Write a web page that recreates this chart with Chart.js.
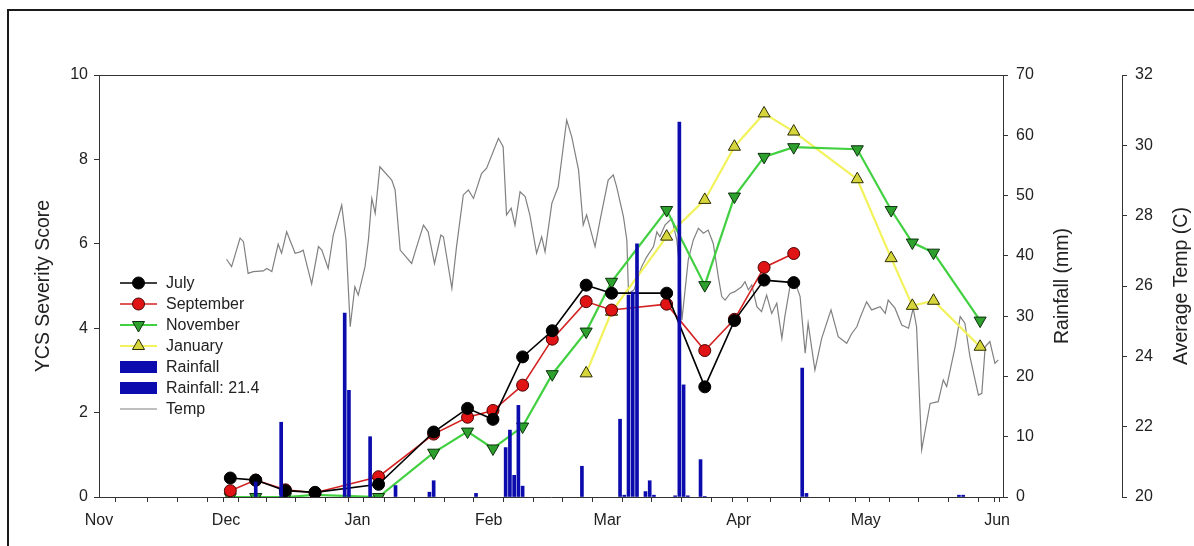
<!DOCTYPE html>
<html>
<head>
<meta charset="utf-8">
<script src="https://cdn.jsdelivr.net/npm/chart.js@4.4.1/dist/chart.umd.min.js"></script>
<style>
html, body { margin: 0; padding: 0; background: #fff; }
#wrap { position: relative; width: 1194px; height: 546px; overflow: hidden; }
#frame { position: absolute; left: 7px; top: 9px; width: 1300px; height: 700px;
         border-left: 2px solid #1a1a1a; border-top: 2px solid #1a1a1a; }
#myChart { position: absolute; left: 0; top: 0; }
</style>
</head>
<body>
<div id="wrap">
  <div id="frame"></div>
  <canvas id="myChart" width="1194" height="546"></canvas>
</div>
<script>
// x values are days counted from 1 Nov
var monthNames = ['Nov', 'Dec', 'Jan', 'Feb', 'Mar', 'Apr', 'May', 'Jun'];
var monthStarts = [0, 30, 61, 92, 120, 151, 181, 212];

var julyDays = [31, 37, 44, 51, 66, 79, 87, 93, 100, 107, 115, 121, 134, 143, 150, 157, 164];
var julyScore = [0.45, 0.40, 0.15, 0.11, 0.30, 1.54, 2.10, 1.84, 3.32, 3.94, 5.02, 4.83, 4.83, 2.61, 4.18, 5.14, 5.08];

var septDays = [31, 37, 44, 51, 66, 79, 87, 93, 100, 107, 115, 121, 134, 143, 150, 157, 164];
var septScore = [0.15, 0.40, 0.17, 0.10, 0.48, 1.49, 1.89, 2.05, 2.65, 3.74, 4.63, 4.43, 4.57, 3.47, 4.21, 5.44, 5.77];

var novDays = [31, 37, 44, 51, 66, 79, 87, 93, 100, 107, 115, 121, 134, 143, 150, 157, 164, 179, 187, 192, 197, 208];
var novScore = [0, 0, 0, 0.05, 0, 1.05, 1.55, 1.15, 1.67, 2.91, 3.92, 5.10, 6.80, 5.02, 7.12, 8.06, 8.29, 8.24, 6.80, 6.03, 5.79, 4.18];

var janDays = [115, 121, 134, 143, 150, 157, 164, 179, 187, 192, 197, 208];
var janScore = [2.93, 4.39, 6.17, 7.04, 8.30, 9.09, 8.66, 7.53, 5.66, 4.53, 4.65, 3.56];

var rainDays = [37, 43, 58, 59, 64, 70, 78, 79, 89, 96, 97, 98, 99, 100, 114, 123, 124, 125, 126, 127,
                129, 130, 131, 136, 137, 138, 139, 142, 143, 167, 203, 204];
var rainMm = [2.5, 12.4, 30.5, 17.7, 10.0, 1.9, 0.8, 2.7, 0.6, 8.2, 11.1, 3.6, 15.2, 1.8, 5.1, 12.9, 0.3, 33.5, 34.0, 42.0,
              0.9, 2.7, 0.3, 0.2, 62.2, 18.6, 0.2, 6.2, 0.1, 0.6, 0.3, 0.3];

var rain21Days = [166];
var rain21Mm = [21.4];

var tempDays = [30.1, 31.3, 33.3, 34.1, 35.2, 36.4, 38.8, 39.6, 40.8, 42.3,
    43.1, 44.3, 46.3, 47.5, 48.2, 50.2, 51.8, 52.6, 54.1, 55.3,
    57.3, 58.3, 59.3, 60.4, 61.2, 62.8, 63.6, 64.4, 65.2, 66.3,
    69.1, 69.9, 71.1, 73.8, 75.0, 76.6, 77.7, 79.2, 80.7, 81.3,
    83.3, 84.4, 86.0, 87.2, 88.4, 90.3, 91.5, 94.3, 95.4, 96.2,
    97.3, 98.2, 99.4, 100.6, 101.7, 103.3, 104.5, 105.3, 106.9, 108.4,
    110.4, 111.6, 113.2, 114.3, 115.1, 117.1, 118.3, 120.2, 121.4, 122.2,
    123.8, 124.6, 125.0, 126.3, 128.1, 129.3, 130.9, 131.7, 132.4, 133.6,
    135.2, 136.4, 137.0, 137.6, 139.1, 140.3, 141.5, 142.7, 143.8, 145.0,
    146.2, 147.0, 147.8, 149.0, 150.1, 151.7, 152.5, 153.3, 154.1, 155.3,
    156.4, 157.6, 158.8, 160.0, 161.2, 161.9, 163.1, 164.3, 165.5, 166.7,
    167.4, 169.0, 170.6, 172.8, 174.5, 176.5, 177.7, 178.9, 179.6, 181.2,
    182.4, 184.4, 185.6, 186.3, 187.9, 189.5, 191.1, 192.2, 193.0, 194.2,
    196.2, 198.1, 199.3, 200.1, 202.1, 203.3, 204.4, 205.6, 207.6, 208.4,
    209.2, 210.3, 211.5, 212.3];
var tempC = [26.76, 26.55, 27.36, 27.26, 26.36, 26.41, 26.43, 26.50, 26.41, 27.19,
    26.93, 27.54, 26.93, 26.97, 27.02, 26.06, 27.12, 27.02, 26.50, 27.45,
    28.30, 27.31, 24.84, 25.98, 25.74, 26.55, 27.31, 28.49, 28.07, 29.39,
    29.01, 28.73, 27.02, 26.64, 27.12, 27.73, 27.54, 26.64, 27.45, 27.40,
    25.93, 27.12, 28.59, 28.73, 28.49, 29.20, 29.35, 30.20, 29.96, 28.02,
    28.21, 27.73, 28.68, 28.54, 28.02, 26.93, 27.40, 26.97, 28.35, 28.82,
    30.72, 30.24, 29.30, 27.73, 28.02, 27.12, 27.88, 29.01, 29.16, 28.82,
    27.97, 27.31, 25.79, 25.89, 26.55, 26.83, 27.12, 27.54, 27.40, 27.73,
    27.92, 27.31, 26.55, 25.03, 26.74, 27.31, 27.64, 27.50, 27.59, 27.21,
    26.26, 25.70, 25.60, 25.79, 25.84, 25.98, 26.12, 25.89, 26.03, 25.41,
    25.27, 25.74, 25.22, 25.51, 24.51, 25.13, 25.98, 26.12, 25.70, 24.09,
    24.94, 23.61, 24.51, 25.32, 24.56, 24.37, 24.65, 24.84, 25.08, 25.55,
    25.32, 25.41, 25.22, 25.60, 25.37, 24.89, 24.80, 25.37, 24.84, 21.34,
    22.66, 22.71, 23.33, 23.14, 24.27, 25.13, 24.94, 23.99, 22.90, 22.95,
    24.27, 24.42, 23.80, 23.90];

var FONT = "'Liberation Sans', Arial, sans-serif";
var AXIS = '#333333';
var TEXT = '#222222';
var BLUE = '#0c0cae';

function pts(xs, ys) {
    return xs.map(function (x, i) { return { x: x, y: ys[i] }; });
}

function scoreLine(label, xs, ys, line, fill, edge, style, rot, r, w) {
    return {
        type: 'line', label: label, data: pts(xs, ys), yAxisID: 'y', order: 1,
        borderColor: line, borderWidth: w, tension: 0,
        pointStyle: style, pointRotation: rot, pointRadius: r, pointHoverRadius: r,
        pointBackgroundColor: fill, pointBorderColor: edge, pointBorderWidth: 1
    };
}

// legend, right-hand axis titles and the top edge of the plot box
var extras = {
    id: 'extras',
    afterDraw: function (chart) {
        var c = chart.ctx, a = chart.chartArea;
        c.save();
        c.strokeStyle = AXIS;
        c.lineWidth = 1;
        c.beginPath();
        c.moveTo(a.left, a.top + 0.5);
        c.lineTo(a.right, a.top + 0.5);
        c.stroke();

        c.fillStyle = TEXT;
        c.font = '19.5px ' + FONT;
        c.textAlign = 'center';
        c.textBaseline = 'middle';
        var mid = (a.top + a.bottom) / 2;
        [['y1', 'Rainfall (mm)', 60], ['y2', 'Average Temp (C)', 60]].forEach(function (t) {
            var s = chart.scales[t[0]];
            c.save();
            c.translate(s.left + t[2], mid);
            c.rotate(-Math.PI / 2);
            c.fillText(t[1], 0, 0);
            c.restore();
        });

        var x0 = a.left + 21, y0 = a.top + 208, row = 21, len = 37;
        c.font = '16px ' + FONT;
        c.textAlign = 'left';
        chart.data.datasets.forEach(function (d, i) {
            var y = y0 + i * row;
            if (d.type === 'bar') {
                c.fillStyle = d.backgroundColor;
                c.fillRect(x0, y - 6, len, 12);
            } else {
                c.strokeStyle = d.borderColor;
                c.lineWidth = d.borderWidth;
                c.beginPath();
                c.moveTo(x0, y);
                c.lineTo(x0 + len, y);
                c.stroke();
                if (d.pointRadius > 0) {
                    c.fillStyle = d.pointBackgroundColor;
                    c.strokeStyle = d.pointBorderColor;
                    c.lineWidth = 1;
                    Chart.helpers.drawPoint(c, {
                        pointStyle: d.pointStyle, rotation: d.pointRotation || 0,
                        radius: d.pointRadius, borderWidth: 1
                    }, x0 + len / 2, y);
                }
            }
            c.fillStyle = TEXT;
            c.fillText(d.label, x0 + len + 9, y + 1);
        });
        c.restore();
    }
};

var tickFont = { family: FONT, size: 16 };

const myChart = new Chart(document.getElementById('myChart'), {
    type: 'line',
    data: {
        datasets: [
            scoreLine('July', julyDays, julyScore, '#000000', '#000000', '#000000', 'circle', 0, 6, 1.6),
            scoreLine('September', septDays, septScore, '#d42222', '#e01414', '#4a0000', 'circle', 0, 6, 1.6),
            scoreLine('November', novDays, novScore, '#40d040', '#2ea02e', '#0c300c', 'triangle', 180, 7, 2.2),
            scoreLine('January', janDays, janScore, '#f2f25a', '#d6d63c', '#2c2c00', 'triangle', 0, 7, 2.2),
            { type: 'bar', label: 'Rainfall', data: pts(rainDays, rainMm), yAxisID: 'y1', order: 0,
              backgroundColor: BLUE, barThickness: 3, grouped: false },
            { type: 'bar', label: 'Rainfall: 21.4', data: pts(rain21Days, rain21Mm), yAxisID: 'y1', order: 0,
              backgroundColor: BLUE, barThickness: 3, grouped: false },
            { type: 'line', label: 'Temp', data: pts(tempDays, tempC), yAxisID: 'y2', order: 2,
              borderColor: '#808080', borderWidth: 1.2, pointRadius: 0, tension: 0 }
        ]
    },
    options: {
        responsive: false,
        animation: false,
        devicePixelRatio: 1,
        layout: { padding: { left: 28, top: 75, right: 0, bottom: 0 } },
        plugins: { legend: { display: false }, tooltip: { enabled: false } },
        scales: {
            x: {
                type: 'linear', min: 0, max: 213.4, offset: false,
                afterBuildTicks: function (s) {
                    var vals = monthStarts.slice();
                    for (var d = 8; d < 213; d += 7) {
                        if (vals.indexOf(d) < 0) vals.push(d);
                    }
                    vals.sort(function (p, q) { return p - q; });
                    s.ticks = vals.map(function (v) { return { value: v }; });
                },
                afterFit: function (s) { s.height = 49; },
                ticks: {
                    autoSkip: false, maxRotation: 0, padding: 9, color: TEXT, font: tickFont,
                    callback: function (v) {
                        var i = monthStarts.indexOf(v);
                        return i >= 0 ? monthNames[i] : '';
                    }
                },
                grid: { drawOnChartArea: false, tickLength: 5, color: AXIS },
                border: { color: AXIS, width: 1 }
            },
            y: {
                position: 'left', min: 0, max: 10,
                afterFit: function (s) { s.width = 71; },
                ticks: { stepSize: 2, padding: 6, color: TEXT, font: tickFont },
                grid: { drawOnChartArea: false, tickLength: 5, color: AXIS },
                border: { color: AXIS, width: 1 },
                title: { display: true, text: 'YCS Severity Score', color: TEXT, font: { family: FONT, size: 19.5 } }
            },
            y1: {
                position: 'right', min: 0, max: 70,
                afterFit: function (s) { s.width = 119; },
                ticks: { stepSize: 10, padding: 8, color: TEXT, font: tickFont },
                grid: { drawOnChartArea: false, tickLength: 5, color: AXIS },
                border: { color: AXIS, width: 1 }
            },
            y2: {
                position: 'right', min: 20, max: 32,
                afterFit: function (s) { s.width = 72; },
                ticks: { stepSize: 2, padding: 8, color: TEXT, font: tickFont },
                grid: { drawOnChartArea: false, tickLength: 5, color: AXIS },
                border: { color: AXIS, width: 1 }
            }
        }
    },
    plugins: [extras]
});
</script>
</body>
</html>
